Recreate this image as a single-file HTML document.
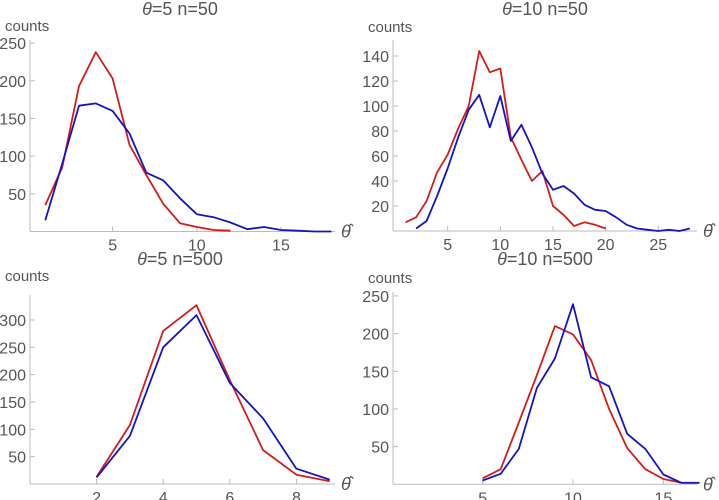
<!DOCTYPE html>
<html><head><meta charset="utf-8"><style>
body{margin:0;background:#fff;}
svg{display:block;font-family:"Liberation Sans",sans-serif;}
</style></head><body>
<svg id="c" width="719" height="500"></svg>
<script>
const p1RedX=[1,2,3,4,5,6,7,8,9,10,11,12];
const p1Red=[35,85,193,238,203,115,75,37,11,6,2,1];
const p1BlueX=[1,2,3,4,5,6,7,8,9,10,11,12,13,14,15,16,17,18];
const p1Blue=[15,90,167,170,160,130,78,68,44,23,19,12,3,6,2,1,0,0];
const p1XTicks=[5,10,15];
const p1YTicks=[50,100,150,200,250];

const p2RedX=[1,2,3,4,5,6,7,8,9,10,11,12,13,14,15,16,17,18,19,20];
const p2Red=[7,11,24,47,61,82,100,144,127,130,75,57,40,48,20,13,4,7,5,2];
const p2BlueX=[2,3,4,5,6,7,8,9,10,11,12,13,14,15,16,17,18,19,20,21,22,23,24,25,26,27,28];
const p2Blue=[2,8,28,50,75,97,109,83,108,72,85,67,46,33,36,30,21,17,16,11,5,2,1,0,1,0,2];
const p2XTicks=[5,10,15,20,25];
const p2YTicks=[20,40,60,80,100,120,140];

const p3RedX=[2,3,4,5,6,7,8,9];
const p3Red=[13,108,280,327,190,62,17,5];
const p3BlueX=[2,3,4,5,6,7,8,9];
const p3Blue=[12,88,250,309,185,120,28,8];
const p3XTicks=[2,4,6,8];
const p3YTicks=[50,100,150,200,250,300];

const p4RedX=[5,6,7,8,9,10,11,12,13,14,15,16];
const p4Red=[8,20,82,145,210,199,165,100,48,20,7,2];
const p4BlueX=[5,6,7,8,9,10,11,12,13,14,15,16,17];
const p4Blue=[5,14,47,128,167,239,142,130,67,47,13,2,2];
const p4XTicks=[5,10,15];
const p4YTicks=[50,100,150,200,250];

const NS="http://www.w3.org/2000/svg";
const svg=document.getElementById('c');
function mk(t,a,parent){const e=document.createElementNS(NS,t);for(const k in a)e.setAttribute(k,a[k]);(parent||svg).appendChild(e);return e;}

function panel(cfg){
  const g=mk('g',{});
  
  
  const sx=v=>cfg.x0+v*cfg.kx, sy=v=>cfg.y0-v*cfg.ky;
  const t=mk('text',{x:cfg.tx,y:cfg.ty,'font-size':18,fill:'#555','text-anchor':'middle'},g);
  t.innerHTML='<tspan font-style="italic">θ</tspan>'+cfg.title;
  
  
  const cl=mk('text',{x:cfg.ax-25,y:cfg.cy,'font-size':15,fill:'#555'},g);
  cl.textContent='counts';
  
  
  const xa=mk('line',{x1:cfg.ax,x2:cfg.xend,y1:cfg.y0,y2:cfg.y0,stroke:'#bbb','stroke-width':1},g);
  
  
  const ya=mk('line',{x1:cfg.ax,x2:cfg.ax,y1:cfg.y0,y2:cfg.ytop,stroke:'#bbb','stroke-width':1},g);
  
  
  const xl=mk('text',{x:cfg.xend+6,y:cfg.y0+6,'font-size':18,fill:'#555','font-style':'italic'},g);
  xl.textContent='θ̂';
  
  
  cfg.xt.forEach(v=>{
    mk('line',{x1:sx(v),x2:sx(v),y1:cfg.y0,y2:cfg.y0-5,stroke:'#bbb'},g);
    const l=mk('text',{x:sx(v),y:cfg.y0+19,'font-size':16,fill:'#555','text-anchor':'middle'},g);
    l.textContent=v;
    
    
  });
  cfg.yt.forEach(v=>{
    mk('line',{x1:cfg.ax,x2:cfg.ax+5,y1:sy(v),y2:sy(v),stroke:'#bbb'},g);
    const l=mk('text',{x:cfg.ax-4,y:sy(v)+6,'font-size':16,fill:'#555','text-anchor':'end'},g);
    l.textContent=v;
    
    
  });
  [[cfg.rx,cfg.r,'#d41c1c','red-series'],[cfg.bx,cfg.b,'#1414c4','blue-series']].forEach(s=>{
    const pts=s[0].map((x,i)=>sx(x).toFixed(1)+','+sy(s[1][i]).toFixed(1)).join(' ');
    const pl=mk('polyline',{points:pts,fill:'none',stroke:s[2],'stroke-width':1.8,'stroke-linejoin':'round'},g);
    
    
  });
}
panel({name:'panel-theta5-n50',title:'=5 n=50',tx:180,ty:15,cy:31,ax:30,xend:335,ytop:40,x0:28.5,kx:16.83,y0:231.5,ky:0.7535,xt:p1XTicks,yt:p1YTicks,rx:p1RedX,r:p1Red,bx:p1BlueX,b:p1Blue});
panel({name:'panel-theta10-n50',title:'=10 n=50',tx:545,ty:15,cy:32,ax:393,xend:697,ytop:40,x0:395,kx:10.53,y0:231,ky:1.25,xt:p2XTicks,yt:p2YTicks,rx:p2RedX,r:p2Red,bx:p2BlueX,b:p2Blue});
panel({name:'panel-theta5-n500',title:'=5 n=500',tx:180,ty:265,cy:281,ax:30,xend:335,ytop:295,x0:30,kx:33.3,y0:484,ky:0.5467,xt:p3XTicks,yt:p3YTicks,rx:p3RedX,r:p3Red,bx:p3BlueX,b:p3Blue});
panel({name:'panel-theta10-n500',title:'=10 n=500',tx:545,ty:265,cy:283,ax:393,xend:697,ytop:292,x0:392.3,kx:18.07,y0:484.3,ky:0.7535,xt:p4XTicks,yt:p4YTicks,rx:p4RedX,r:p4Red,bx:p4BlueX,b:p4Blue});
</script>
</body></html>
